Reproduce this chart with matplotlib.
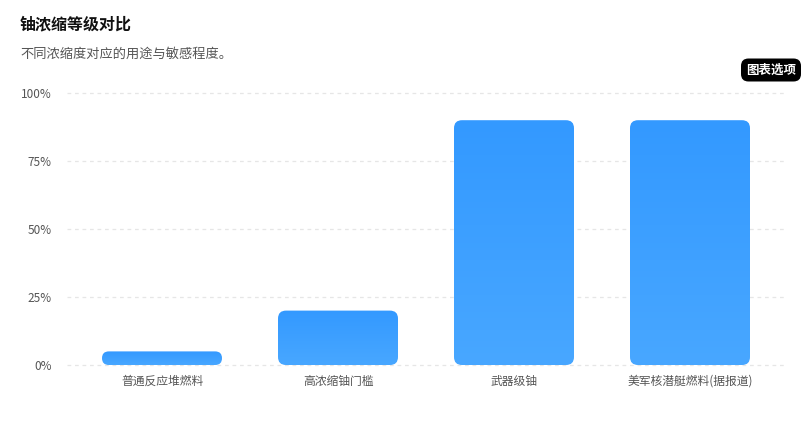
import numpy as np
import matplotlib.pyplot as plt
from matplotlib.patches import FancyBboxPatch
from matplotlib.colors import LinearSegmentedColormap
from matplotlib.ticker import FuncFormatter

plt.rcParams['font.family'] = ['Noto Sans CJK SC', 'DejaVu Sans']

categories = ['普通反应堆燃料', '高浓缩铀门槛', '武器级铀', '美军核潜艇燃料(据报道)']
enrichment = [5, 20, 90, 90]
y_ticks = [0, 25, 50, 75, 100]

W, H = 807, 434
fig = plt.figure(figsize=(W / 100, H / 100), dpi=100)
# plot area in pixels: x 74..778, y 93..365
ax = fig.add_axes([74 / W, 1 - 365 / H, 704 / W, 272 / H])

px_x = 704 / len(categories)   # pixels per x unit
px_y = 272 / 100               # pixels per y unit
bar_w = 120 / px_x

grad = np.linspace(0, 1, 256).reshape(-1, 1)
cmap = LinearSegmentedColormap.from_list('blu', ['#48a7ff', '#3399ff'])

for i, v in enumerate(enrichment):
    r_px = min(8, v * px_y / 2)
    pad = r_px / px_x
    x0 = i - bar_w / 2
    patch = FancyBboxPatch((x0 + pad, pad * px_x / px_y),
                           bar_w - 2 * pad, v - 2 * pad * px_x / px_y,
                           boxstyle='round,pad=%f' % pad,
                           mutation_aspect=px_x / px_y,
                           linewidth=0, facecolor='none', zorder=3)
    ax.add_patch(patch)
    im = ax.imshow(grad, extent=(x0, x0 + bar_w, 0, v), aspect='auto',
                   cmap=cmap, origin='lower', zorder=3)
    im.set_clip_path(patch)

ax.set_aspect('auto')
ax.set_xlim(-0.5, len(categories) - 0.5)
ax.set_ylim(0, 100)

for t in y_ticks:
    ax.plot([-0.54, len(categories) - 0.46], [t, t], ls=(0, (3, 3)),
            color='#e6e6e6', lw=0.9, zorder=1, clip_on=False)

ax.set_yticks(y_ticks)
ax.yaxis.set_major_formatter(FuncFormatter(lambda v, p: f'{int(v)}%'))
ax.set_xticks(range(len(categories)))
ax.set_xticklabels(categories)
ax.tick_params(length=0, labelsize=8.5, colors='#555555')
ax.tick_params(axis='y', pad=16)
ax.tick_params(axis='x', pad=7)
for s in ax.spines.values():
    s.set_visible(False)

fig.text(20 / W, 1 - 24 / H, '铀浓缩等级对比', fontsize=11.5, fontweight='bold',
         color='#111111', va='center')
fig.text(20 / W, 1 - 54 / H, '不同浓缩度对应的用途与敏感程度。', fontsize=9.5,
         color='#555555', va='center')
fig.text(771 / W, 1 - 70 / H, '图表选项', fontsize=9, fontweight='bold',
         color='white', ha='center', va='center',
         bbox=dict(boxstyle='round,pad=0.4,rounding_size=0.6', fc='black', ec='none'))

fig.savefig('out.png', dpi=100)
